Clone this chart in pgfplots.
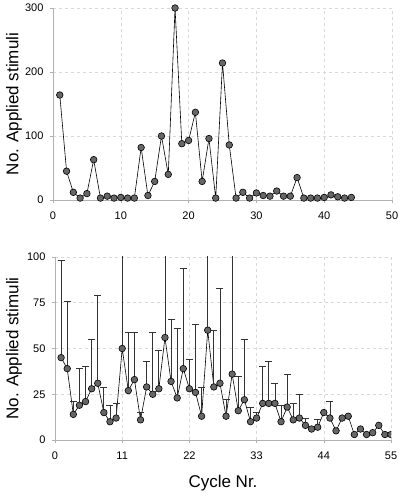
\documentclass[border=0pt]{standalone}
\usepackage{pgfplots}
\usepackage{pgfplotstable}
\pgfplotsset{compat=1.18}
\usepackage{fontspec}
\setmainfont{Liberation Sans}
\definecolor{mk}{HTML}{666666}
\pgfplotstableread{
x y
1 164
2 45
3 12
4 3
5 10
6 63
7 3
8 6
9 3
10 4
11 3
12 3
13 82
14 7
15 29
16 100
17 40
18 300
19 88
20 93
21 137
22 29
23 96
24 3
25 214
26 86
27 3
28 12
29 3
30 11
31 7
32 6
33 14
34 6
35 6
36 35
37 3
38 3
39 3
40 4
41 8
42 5
43 3
44 4
}\topdata
\pgfplotstableread{
x y e
1 45 53
2 39 37
3 14 7
4 19 20
5 21 19
6 28 27
7 31 48
8 15 14
9 10 9
10 12 8
11 50 100
12 27 32
13 33 26
14 11 4
15 29 14
16 25 34
17 28 21
18 56 100
19 32 34
20 23 38
21 39 55
22 28 16
23 26 37
24 13 16
25 60 100
26 29 31
27 31 52
28 13 9
29 36 100
30 16 19
31 22 33
32 10 8
33 12 3
34 20 20
35 20 23
36 20 11
37 10 9
38 18 18
39 11 9
40 12 13
41 8 4
42 6 0
43 7 4
44 15 0
45 12 9
46 5 0
47 12 0
48 13 0
49 3 0
50 6 0
51 3 0
52 4 0
53 8 0
54 3 0
55 3 0
}\botdata
\pgfplotsset{
  common/.style={
    scale only axis,
    axis x line*=bottom, axis y line*=left,
    axis line style={-, gray!60, line width=0.6pt},
    tick align=outside,
    major tick length=3pt,
    tick style={gray!60, line width=0.6pt},
    xmajorgrids, ymajorgrids,
    major grid style={dashed, gray!30, line width=0.5pt},
    tick label style={font=\fontsize{11}{13}\selectfont},
    xticklabel style={yshift=-5pt},
    yticklabel style={xshift=-3pt},
    /pgf/number format/assume math mode=true,
    label style={font=\fontsize{17}{20}\selectfont},
  },
  series/.style={black, line width=0.6pt, mark=*, mark size=3.3pt,
    mark options={fill=mk, draw=black, line width=0.6pt}},
}
\begin{document}
\begin{tikzpicture}
\useasboundingbox (0pt,0pt) rectangle (401pt,497pt);
\begin{axis}[common,
  at={(53pt,297pt)}, anchor=south west,
  width=339pt, height=192pt,
  xmin=0, xmax=50, ymin=0, ymax=300,
  xtick={0,10,...,50}, ytick={0,100,200,300},
  clip=false,
  ylabel={No. Applied stimuli},
  ylabel style={at={(axis description cs:-0.115,0.5)}, anchor=center},
]
\addplot[series] table[x=x,y=y] {\topdata};
\end{axis}
\begin{axis}[common,
  at={(55pt,57pt)}, anchor=south west,
  width=336pt, height=183pt,
  xmin=0, xmax=55, ymin=0, ymax=100,
  xtick={0,11,...,55}, ytick={0,25,...,100},
  clip marker paths=true,
  ylabel={No. Applied stimuli},
  ylabel style={at={(axis description cs:-0.122,0.5)}, anchor=center},
  xlabel={Cycle Nr.},
  xlabel style={at={(axis description cs:0.5,-0.235)}, anchor=center},
]
\addplot[series,
  error bars/.cd, y dir=plus, y explicit,
  error bar style={black!80, line width=0.8pt},
  error mark options={black!80, line width=0.8pt, mark size=3.5pt, rotate=90},
] table[x=x,y=y,y error=e] {\botdata};
\end{axis}
\end{tikzpicture}
\end{document}
